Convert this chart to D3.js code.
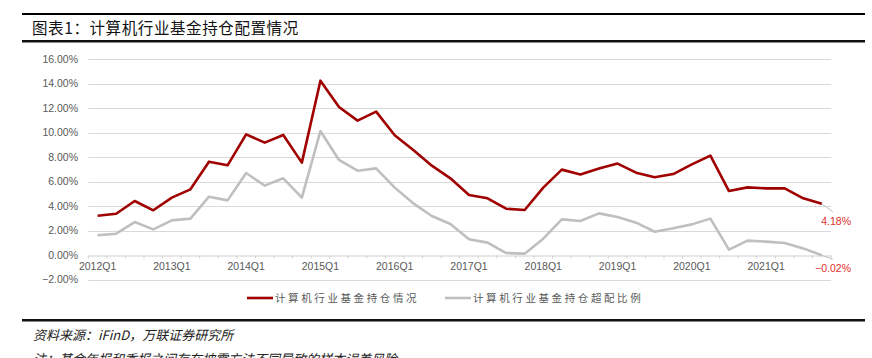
<!DOCTYPE html>
<html><head><meta charset="utf-8">
<script src="https://cdn.jsdelivr.net/npm/d3@7"></script>
<style>
html,body{margin:0;padding:0;background:#fff;overflow:hidden}
svg{display:block}
</style></head>
<body>
<script>
// ---- data ----
const categories = [];
for (let yr = 2012; yr <= 2021; yr++) for (let q = 1; q <= 4; q++) categories.push(yr + "Q" + q);
const tickLabels = ["2012Q1","2013Q1","2014Q1","2015Q1","2016Q1","2017Q1","2018Q1","2019Q1","2020Q1","2021Q1"];
const holding = [3.21,3.37,4.41,3.65,4.68,5.36,7.62,7.32,9.85,9.17,9.80,7.54,14.23,12.08,10.97,11.70,
  9.77,8.57,7.29,6.26,4.90,4.63,3.78,3.67,5.50,6.97,6.58,7.07,7.46,6.72,6.34,6.61,7.40,8.11,5.22,5.52,5.44,5.44,4.63,4.18];
const overweight = [1.61,1.74,2.69,2.09,2.83,2.97,4.76,4.46,6.69,5.66,6.26,4.68,10.12,7.76,6.88,7.07,
  5.50,4.22,3.18,2.53,1.28,1.01,0.16,0.11,1.33,2.91,2.78,3.40,3.10,2.64,1.90,2.18,2.50,2.97,0.44,1.17,1.09,0.98,0.54,-0.02];
const yTicks = [-2,0,2,4,6,8,10,12,14,16];
const seriesNames = ["计算机行业基金持仓情况","计算机行业基金持仓超配比例"];
const title = "图表1：计算机行业基金持仓配置情况";
const source = "资料来源：iFinD，万联证券研究所";
const note = "注：基金年报和季报之间存在披露方法不同导致的样本误差风险";

const W = 872, H = 358;
const svg = d3.select("body").append("svg").attr("width", W).attr("height", H);

const x = d3.scaleBand().domain(categories).range([88.3, 831.1]);
const y = d3.scaleLinear().domain([-2, 16]).range([279.5, 59]);
const cx = d => x(d) + x.bandwidth() / 2;

const numFont = "'Liberation Sans', Arial, sans-serif";
const cjkFont = "'Noto Sans CJK SC', sans-serif";
const fmt = v => (v < 0 ? "\u2212" : "") + Math.abs(v).toFixed(2) + "%";

// header rules and title
svg.append("rect").attr("x", 22).attr("y", 13).attr("width", 843).attr("height", 2).attr("fill", "#000");
svg.append("rect").attr("x", 22).attr("y", 40).attr("width", 843).attr("height", 2.5).attr("fill", "#111");
svg.append("text").attr("x", 32).attr("y", 34).attr("font-family", cjkFont).attr("font-size", 15.5)
  .attr("letter-spacing", 0.6).attr("fill", "#111").text(title);

// gridlines
svg.append("g").selectAll("line").data(yTicks.filter(d => d !== 0)).join("line")
  .attr("x1", 88.3).attr("x2", 831.1).attr("y1", d => Math.round(y(d)) + 0.5).attr("y2", d => Math.round(y(d)) + 0.5)
  .attr("stroke", "#d9d9d9").attr("stroke-width", 1);

// y labels
svg.append("g").selectAll("text").data(yTicks).join("text")
  .attr("x", 78).attr("y", d => y(d)).attr("dy", "0.35em").attr("text-anchor", "end")
  .attr("font-family", numFont).attr("font-size", 10.5).attr("fill", "#595959").text(d => fmt(d));

// x axis
const xAxis = d3.axisBottom(x).tickSizeInner(0).tickSizeOuter(0).tickValues(tickLabels);
const gx = svg.append("g").attr("transform", `translate(0,${Math.round(y(0)) + 0.5})`).call(xAxis);
gx.select(".domain").attr("stroke", "#d0d0d0");
gx.selectAll("text").attr("font-family", numFont).attr("font-size", 10.5).attr("fill", "#595959").attr("dy", "1.05em");
// band boundary ticks
const bounds = categories.map(c => x(c)).concat([x.range()[1]]);
gx.append("g").selectAll("line").data(bounds).join("line")
  .attr("x1", d => d).attr("x2", d => d).attr("y1", 0).attr("y2", 3).attr("stroke", "#d0d0d0");

// lines
const line = d3.line().x((d, i) => cx(categories[i])).y(d => y(d));
svg.append("path").datum(overweight).attr("d", line).attr("fill", "none")
  .attr("stroke", "#bfbfbf").attr("stroke-width", 2.6).attr("stroke-linejoin", "round");
svg.append("path").datum(holding).attr("d", line).attr("fill", "none")
  .attr("stroke", "#a00000").attr("stroke-width", 2.6).attr("stroke-linejoin", "round");

// end labels with leaders
const last = categories.length - 1;
const lx = cx(categories[last]);
[[holding[last], 8], [overweight[last], 4]].forEach(([v, dy]) => {
  svg.append("line").attr("x1", lx).attr("y1", y(v)).attr("x2", lx + 11).attr("y2", y(v) + dy)
    .attr("stroke", "#bfbfbf").attr("stroke-width", 1);
});
svg.append("text").attr("x", 851).attr("y", y(holding[last]) + 17.5).attr("dy", "0.35em").attr("text-anchor", "end")
  .attr("font-family", numFont).attr("font-size", 10.5).attr("fill", "#e0302a").text(fmt(holding[last]));
svg.append("text").attr("x", 851).attr("y", y(0) + 13).attr("dy", "0.35em").attr("text-anchor", "end")
  .attr("font-family", numFont).attr("font-size", 10.5).attr("fill", "#e0302a").text(fmt(overweight[last]));

// legend
const legend = [{name: seriesNames[0], color: "#a00000", x: 247}, {name: seriesNames[1], color: "#bfbfbf", x: 445}];
const lg = svg.append("g").selectAll("g").data(legend).join("g").attr("transform", d => `translate(${d.x},298)`);
lg.append("line").attr("x1", 0).attr("x2", 26).attr("stroke", d => d.color).attr("stroke-width", 2.6);
lg.append("text").attr("x", 28).attr("dy", "0.35em").attr("font-family", cjkFont).attr("font-size", 10.5)
  .attr("letter-spacing", 2.6).attr("fill", "#595959").text(d => d.name);

// footer
svg.append("rect").attr("x", 22).attr("y", 319).attr("width", 843).attr("height", 2.5).attr("fill", "#111");
svg.append("text").attr("x", 33).attr("y", 340).attr("font-family", cjkFont).attr("font-size", 13)
  .attr("font-style", "italic").attr("fill", "#222").text(source);
svg.append("text").attr("x", 33).attr("y", 364).attr("font-family", cjkFont).attr("font-size", 13)
  .attr("font-style", "italic").attr("fill", "#222").text(note);
</script>
</body></html>
